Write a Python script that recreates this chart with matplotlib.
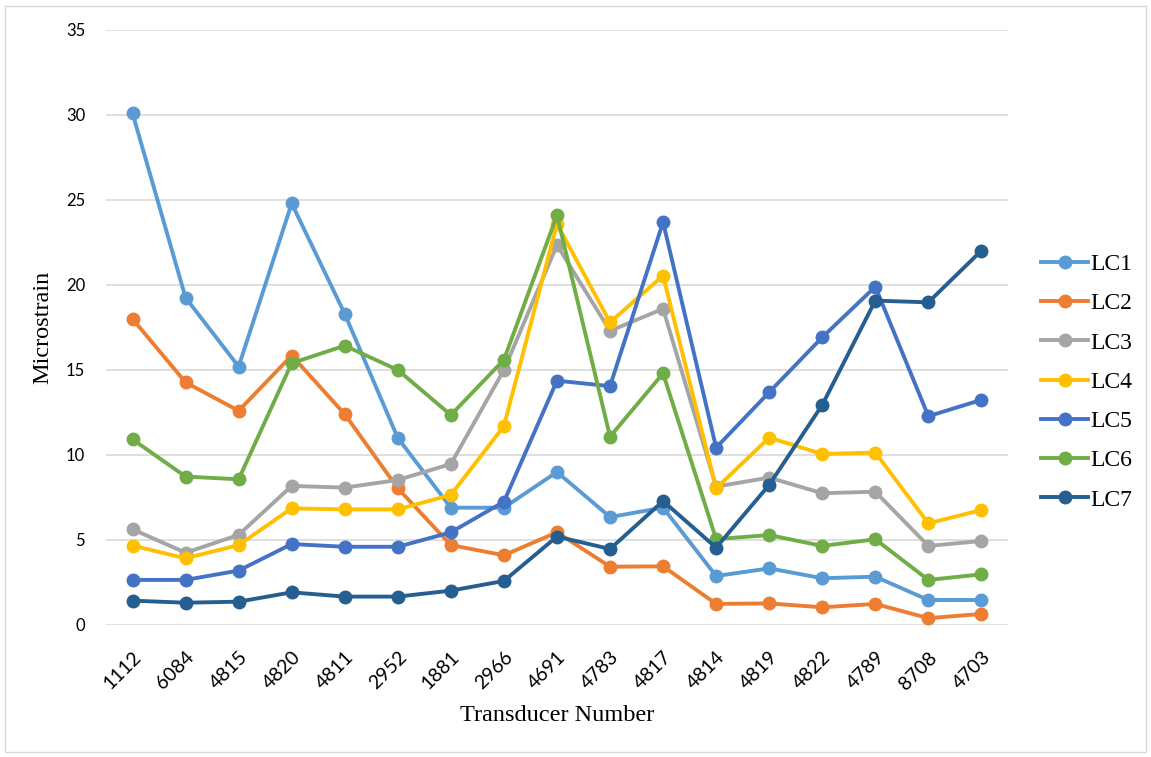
import matplotlib.pyplot as plt
from matplotlib.patches import Rectangle
from matplotlib.transforms import ScaledTranslation

# transducer ids along the x axis
transducers = ['1112', '6084', '4815', '4820', '4811', '2952', '1881', '2966', '4691',
               '4783', '4817', '4814', '4819', '4822', '4789', '8708', '4703']

lc1 = [30.1, 19.25, 15.2, 24.8, 18.3, 11.0, 6.9, 6.9, 9.0, 6.35, 6.9, 2.88, 3.33, 2.75, 2.84, 1.47, 1.47]
lc2 = [18.0, 14.27, 12.6, 15.85, 12.4, 8.04, 4.7, 4.1, 5.45, 3.43, 3.45, 1.24, 1.27, 1.04, 1.24, 0.4, 0.65]
lc3 = [5.63, 4.25, 5.3, 8.18, 8.08, 8.53, 9.47, 15.0, 22.35, 17.3, 18.6, 8.14, 8.67, 7.75, 7.84, 4.65, 4.94]
lc4 = [4.67, 3.92, 4.7, 6.86, 6.8, 6.8, 7.65, 11.7, 23.6, 17.8, 20.55, 8.04, 11.02, 10.06, 10.14, 5.98, 6.76]
lc5 = [2.65, 2.65, 3.2, 4.76, 4.6, 4.6, 5.45, 7.25, 14.37, 14.05, 23.7, 10.43, 13.69, 16.92, 19.9, 12.28, 13.24]
lc6 = [10.92, 8.73, 8.57, 15.4, 16.43, 15.0, 12.35, 15.6, 24.1, 11.08, 14.8, 5.05, 5.29, 4.65, 5.04, 2.65, 2.98]
lc7 = [1.43, 1.31, 1.37, 1.92, 1.67, 1.67, 2.02, 2.59, 5.2, 4.47, 7.29, 4.55, 8.24, 12.94, 19.08, 18.98, 22.02]

series = [('LC1', lc1, '#5B9BD5'), ('LC2', lc2, '#ED7D31'), ('LC3', lc3, '#A5A5A5'),
          ('LC4', lc4, '#FFC000'), ('LC5', lc5, '#4472C4'), ('LC6', lc6, '#70AD47'),
          ('LC7', lc7, '#255E91')]

fig = plt.figure(figsize=(11.51, 7.57), dpi=100)
ax = fig.add_axes([0.0921, 0.1744, 0.7836, 0.786])

x = range(len(transducers))
for name, vals, col in series:
    ax.plot(x, vals, color=col, lw=2.8, marker='o', ms=9, label=name)

ax.set_xlim(-0.5, len(transducers) - 0.5)
ax.set_ylim(0, 35)
ax.set_yticks(range(0, 36, 5))
ax.set_xticks(list(x))
ax.set_xticklabels(transducers, rotation=45, ha='right', va='top',
                   rotation_mode='anchor', fontsize=14, family='Lato')
shift = ScaledTranslation(4 / 100, 0, fig.dpi_scale_trans)
for lbl in ax.get_xticklabels():
    lbl.set_transform(lbl.get_transform() + shift)
for lbl in ax.get_yticklabels():
    lbl.set_family('Lato')
    lbl.set_fontsize(12)
ax.tick_params(axis='y', length=0, pad=15)
ax.tick_params(axis='x', length=0, pad=17)
ax.grid(axis='y', color='#D9D9D9', lw=1.2)
ax.set_axisbelow(True)
for s in ax.spines.values():
    s.set_visible(False)

ax.set_ylabel('Microstrain', family='Liberation Serif', fontsize=17.5)
ax.yaxis.set_label_coords(-0.058, 0.5)
ax.set_xlabel('Transducer Number', family='Liberation Serif', fontsize=17.5)
ax.xaxis.set_label_coords(0.5, -0.134)

leg = fig.legend(loc='center left', bbox_to_anchor=(0.886, 0.4953), frameon=False,
                 prop={'family': 'Liberation Serif', 'size': 17},
                 handlelength=2.0, labelspacing=0.75, handletextpad=0.08)

# light frame around the whole chart
fig.patches.append(Rectangle((0.004, 0.006), 0.992, 0.986, transform=fig.transFigure,
                             fill=False, edgecolor='#D9D9D9', lw=1))

fig.savefig('out.png', dpi=100)
